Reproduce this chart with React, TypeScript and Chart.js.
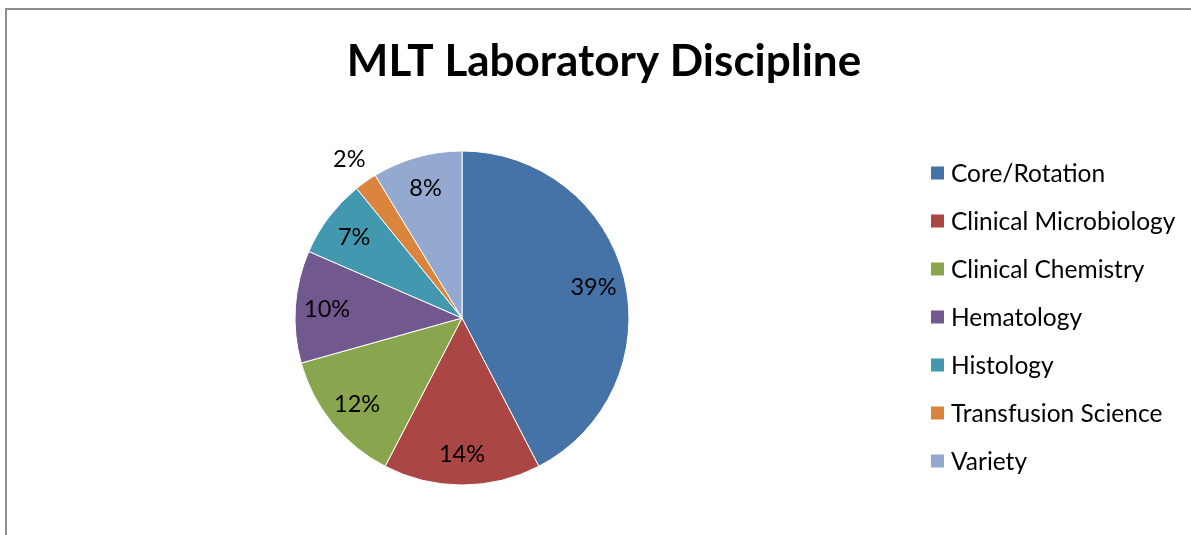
import React, { useEffect, useRef } from "react";
import { Chart, registerables } from "chart.js";

Chart.register(...registerables);

const chartTitle = "MLT Laboratory Discipline";
const categories = [
  "Core/Rotation",
  "Clinical Microbiology",
  "Clinical Chemistry",
  "Hematology",
  "Histology",
  "Transfusion Science",
  "Variety",
];
const values = [39, 14, 12, 10, 7, 2, 8];
const colors = ["#4572A7", "#AA4643", "#89A54E", "#71588F", "#4198AF", "#DB843D", "#93A9CF"];

const FONT = "Lato, 'Open Sans', sans-serif";
const W = 1191;
const H = 535;

const framePlugin = {
  id: "frame",
  beforeDraw(chart: any) {
    const ctx = chart.ctx;
    ctx.save();
    ctx.fillStyle = "#ffffff";
    ctx.fillRect(0, 0, chart.width, chart.height);
    ctx.strokeStyle = "#8e8e8e";
    ctx.lineWidth = 2;
    ctx.strokeRect(6, 9, chart.width + 20, chart.height + 20);
    ctx.restore();
  },
};

const titlePlugin = {
  id: "customTitle",
  afterDraw(chart: any) {
    const ctx = chart.ctx;
    ctx.save();
    ctx.fillStyle = "#000";
    ctx.font = `bold 44px ${FONT}`;
    ctx.textAlign = "center";
    ctx.textBaseline = "middle";
    ctx.fillText(chartTitle, 604, 62);
    ctx.restore();
  },
};

const legendPlugin = {
  id: "customLegend",
  afterDraw(chart: any) {
    const ctx = chart.ctx;
    const labels = chart.data.labels as string[];
    const bg = chart.data.datasets[0].backgroundColor as string[];
    ctx.save();
    ctx.font = `24.5px ${FONT}`;
    ctx.textBaseline = "middle";
    ctx.textAlign = "left";
    labels.forEach((lab, i) => {
      const y = 173 + i * 48;
      ctx.fillStyle = bg[i];
      ctx.fillRect(931, y - 6.5, 13, 13);
      ctx.fillStyle = "#000";
      ctx.fillText(lab, 951, y + 1);
    });
    ctx.restore();
  },
};

const sliceLabelPlugin = {
  id: "sliceLabels",
  afterDatasetsDraw(chart: any) {
    const ctx = chart.ctx;
    const meta = chart.getDatasetMeta(0);
    const data = chart.data.datasets[0].data as number[];
    const total = data.reduce((a, b) => a + b, 0);
    ctx.save();
    ctx.font = `23.5px ${FONT}`;
    ctx.fillStyle = "#000";
    ctx.textBaseline = "middle";
    ctx.textAlign = "center";
    meta.data.forEach((arc: any, i: number) => {
      const p = arc.getProps(["x", "y", "startAngle", "endAngle", "outerRadius"], true);
      const mid = (p.startAngle + p.endAngle) / 2;
      const frac = data[i] / total;
      const txt = `${data[i]}%`;
      const r = frac >= 0.03 ? p.outerRadius * 0.81 : p.outerRadius * 1.17;
      ctx.fillText(txt, p.x + r * Math.cos(mid), p.y + r * Math.sin(mid) + 1);
    });
    ctx.restore();
  },
};

export default function App() {
  const ref = useRef<HTMLCanvasElement | null>(null);
  useEffect(() => {
    if (!ref.current) return;
    const chart = new Chart(ref.current, {
      type: "pie",
      data: {
        labels: categories,
        datasets: [
          {
            data: values,
            backgroundColor: colors,
            borderColor: "#ffffff",
            borderWidth: 1,
            radius: 167,
          },
        ],
      },
      options: {
        responsive: false,
        animation: false,
        layout: { padding: { left: 262, right: 529, top: 118, bottom: 17 } },
        plugins: {
          legend: { display: false },
          title: { display: false },
          tooltip: { enabled: false },
        },
      },
      plugins: [framePlugin, titlePlugin, legendPlugin, sliceLabelPlugin],
    });
    return () => chart.destroy();
  }, []);
  return (
    <div style={{ position: "absolute", left: 0, top: 0, width: W, height: H }}>
      <canvas ref={ref} width={W} height={H} style={{ display: "block" }} />
    </div>
  );
}
